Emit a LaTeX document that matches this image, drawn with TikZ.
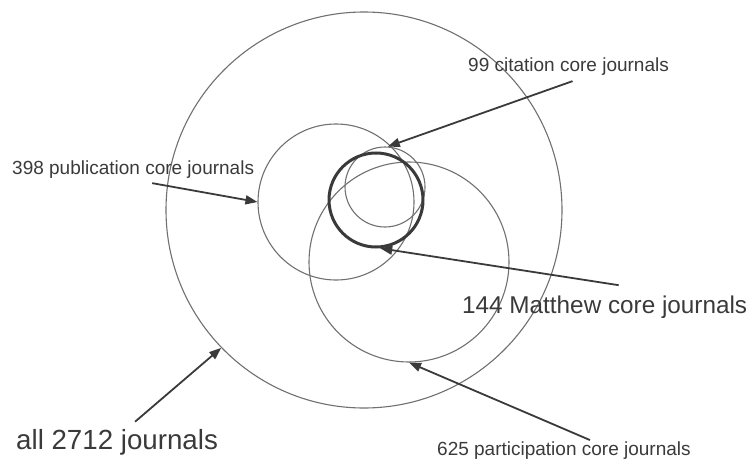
\documentclass[tikz,border=0pt]{standalone}
\usepackage{fontspec}
\setmainfont{Liberation Sans}
\usetikzlibrary{arrows.meta}
\definecolor{ink}{HTML}{3A3A3A}
\definecolor{rim}{HTML}{707070}

\begin{document}
\begin{tikzpicture}[x=1pt,y=1pt,
    ring/.style={circle,draw=rim,line width=1.1pt,inner sep=0pt,minimum size=#1},
    lab/.style={text=ink,anchor=base west,inner sep=0pt},
    pointer/.style={-{Triangle[length=12pt,width=9pt]},draw=ink,line width=1.8pt}]
  \useasboundingbox (0,0) rectangle (747,-460);
  % journal sets
  \node[ring=396pt] (all) at (364,-210) {};
  \node[ring=156pt] (pub) at (336,-202) {};
  \node[ring=200pt] (part) at (409,-262) {};
  \node[ring=80pt] (cit) at (385,-187) {};
  \node[ring=94pt,draw=ink,line width=3pt] (mat) at (376,-200) {};
  % labels
  \node[lab,font=\fontsize{19}{21}\selectfont] (citlab) at (468,-72) {99 citation core journals};
  \node[lab,font=\fontsize{19}{21}\selectfont] (publab) at (12,-174) {398 publication core journals};
  \node[lab,font=\fontsize{24.3}{27}\selectfont] (matlab) at (462,-313) {144 Matthew core journals};
  \node[lab,font=\fontsize{27.7}{30}\selectfont] (alllab) at (16,-449) {all 2712 journals};
  \node[lab,font=\fontsize{19}{21}\selectfont] (partlab) at (437,-455) {625 participation core journals};
  % pointers
  \draw[pointer] ([xshift=4pt,yshift=-5pt]citlab.south) -- (cit.86);
  \draw[pointer] ([xshift=19pt,yshift=-5pt]publab.south) -- (pub.west);
  \draw[pointer] ([xshift=14pt,yshift=10pt]matlab.north) -- (mat.-85);
  \draw[pointer] ([xshift=26pt,yshift=1pt]partlab.north) -- (part.south);
  \draw[pointer] ([xshift=18pt,yshift=7pt]alllab.north) -- (all.224);
\end{tikzpicture}
\end{document}
